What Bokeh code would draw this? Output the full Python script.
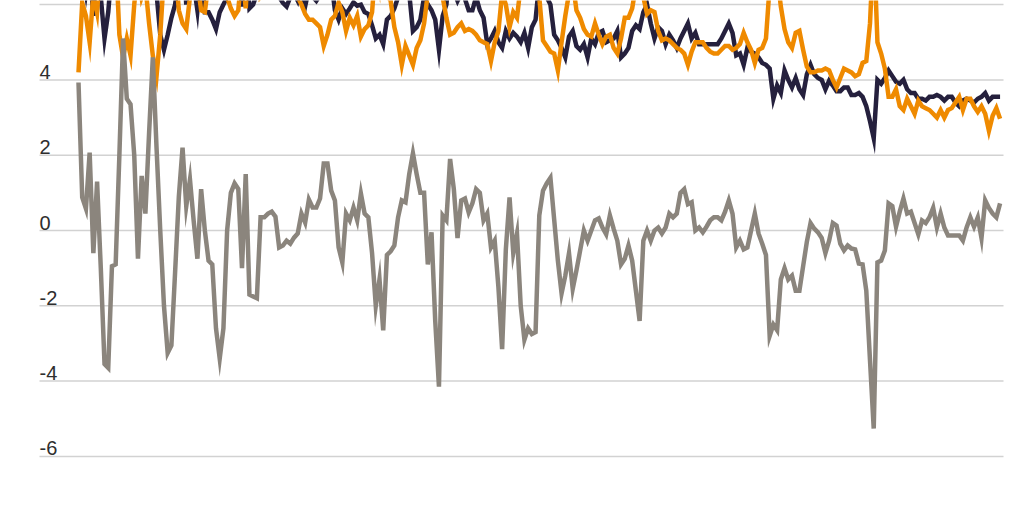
from bokeh.plotting import figure
from bokeh.models import Range1d, ColumnDataSource
from bokeh.core.properties import value
from bokeh.embed import file_html
from bokeh.resources import INLINE

# --- data ---
gray = [3.93, 0.88, 0.58, 2.07, -0.6, 1.3, -1.0, -3.55, -3.65, -0.95,
        -0.9, 2.0, 5.1, 3.5, 3.35, 2.0, -0.75, 1.45, 0.45, 2.6,
        4.6, 2.2, 0.0, -2.0, -3.25, -3.05, -1.1, 0.9, 2.2, 0.65,
        1.35, 0.25, -0.75, 1.1, 0.0, -0.8, -0.9, -2.6, -3.4, -2.6,
        0.0, 1.0, 1.25, 1.1, -1.0, 1.5, -1.7, -1.75, -1.8, 0.35,
        0.35, 0.45, 0.5, 0.37, -0.45, -0.4, -0.27, -0.35, -0.19, -0.08,
        0.45, 0.21, 0.82, 0.61, 0.61, 0.85, 1.78, 1.78, 1.06, 0.8,
        -0.45, -0.85, 0.45, 0.27, 0.61, 0.27, 0.98, 0.45, 0.35, -0.6,
        -2.0, -1.3, -2.65, -0.65, -0.55, -0.4, 0.35, 0.8, 0.75, 1.5,
        2.05, 1.5, 1.0, 1.0, -0.9, -0.05, -2.4, -4.15, 0.4, 0.27,
        1.9, 1.1, -0.2, 0.8, 0.85, 0.48, 0.72, 1.1, 1.0, 0.27,
        0.45, -0.45, -0.27, -1.5, -3.15, -0.5, 0.88, -0.6, -0.08, -2.0,
        -2.9, -2.6, -2.75, -2.7, 0.4, 1.06, 1.25, 1.4, 0.3, -0.8,
        -1.67, -1.2, -0.6, -1.55, -1.06, -0.53, 0.0, -0.27, 0.0, 0.27,
        0.32, 0.08, -0.1, 0.4, 0.05, -0.27, -0.9, -0.75, -0.4, -0.8,
        -1.6, -2.4, -0.27, 0.0, -0.27, 0.0, 0.08, -0.08, 0.08, 0.45,
        0.35, 0.45, 1.0, 1.1, 0.7, 0.75, 0.0, 0.08, -0.05, 0.1,
        0.27, 0.35, 0.35, 0.27, 0.5, 0.8, 0.45, -0.45, -0.27, -0.5,
        -0.45, 0.0, 0.45, -0.08, -0.35, -0.65, -2.8, -2.5, -2.65, -1.3,
        -1.0, -1.3, -1.2, -1.6, -1.6, -0.95, -0.3, 0.2, 0.05, -0.05,
        -0.2, -0.6, -0.27, 0.2, 0.13, -0.35, -0.53, -0.4, -0.48, -0.5,
        -0.88, -0.9, -1.6, -3.45, -5.26, -0.85, -0.8, -0.53, 0.72, 0.65,
        0.1, 0.5, 0.85, 0.45, 0.5, 0.2, -0.1, 0.27, 0.2, 0.35,
        0.6, 0.08, 0.45, 0.08, -0.13, -0.13, -0.13, -0.13, -0.27, 0.08,
        0.35, 0.1, 0.35, -0.2, 0.8, 0.6, 0.45, 0.35, 0.72]

navy = [8.1, 6.9, 6.3, 7.0, 5.7, 7.1, 6.2, 5.1, 5.8, 7.0,
        6.5, 7.2, 9.7, 8.6, 8.0, 8.0, 6.3, 7.65, 6.95, 8.1,
        9.25, 6.3, 5.2, 4.8, 5.2, 5.65, 6.0, 6.75, 7.7, 6.0,
        7.55, 6.55, 5.85, 6.95, 5.8, 5.8, 5.6, 5.35, 5.8, 6.0,
        6.2, 6.9, 6.95, 6.95, 5.95, 7.4, 5.9, 6.0, 6.3, 6.55,
        6.65, 6.85, 7.0, 6.77, 6.2, 6.05, 5.95, 6.2, 6.3, 6.1,
        6.45, 5.96, 6.42, 6.21, 6.1, 6.25, 6.7, 6.98, 6.66, 5.85,
        5.6, 5.9, 5.75, 5.9, 6.06, 5.97, 6.0, 5.8, 5.75, 5.45,
        5.1, 5.2, 4.95, 5.6, 5.7, 5.9, 6.2, 6.3, 6.4, 6.3,
        5.3, 5.4, 5.6, 6.2, 6.0, 5.85, 5.6, 4.8, 5.7, 6.0,
        7.1, 6.35, 6.1, 6.3, 6.15, 5.85, 5.85, 6.2, 5.85, 5.65,
        4.95, 5.1, 5.3, 5.0, 4.85, 5.3, 5.1, 5.25, 5.15, 5.0,
        5.25, 4.85, 5.4, 5.6, 6.6, 6.2, 6.2, 6.0, 5.2, 5.05,
        4.85, 4.6, 5.15, 5.3, 4.9, 4.8, 4.95, 4.6, 5.1, 4.95,
        5.25, 5.3, 5.0, 5.05, 5.1, 5.3, 4.6, 4.7, 4.85, 5.3,
        5.45, 5.35, 5.8, 6.0, 5.5, 5.1, 5.4, 5.3, 4.95, 5.2,
        5.05, 4.85, 5.1, 5.3, 5.5, 5.1, 5.25, 4.95, 4.95, 4.95,
        4.95, 4.95, 4.95, 5.1, 5.3, 5.5, 5.25, 4.65, 4.7, 4.4,
        4.85, 4.75, 4.7, 4.6, 4.45, 4.4, 4.3, 3.5, 3.85, 3.65,
        4.25, 4.0, 3.8, 4.05, 3.75, 3.6, 4.15, 4.4, 4.15, 4.05,
        4.0, 3.75, 3.98, 3.85, 3.7, 3.7, 3.8, 3.8, 3.6, 3.6,
        3.65, 3.55, 3.3, 2.9, 2.45, 4.0, 3.9, 4.05, 4.25, 4.1,
        3.95, 3.9, 4.0, 3.75, 3.65, 3.65, 3.5, 3.5, 3.45, 3.55,
        3.55, 3.6, 3.55, 3.45, 3.55, 3.55, 3.4, 3.3, 3.45, 3.5,
        3.45, 3.4, 3.5, 3.55, 3.65, 3.45, 3.55, 3.55, 3.55]

orange = [4.2, 6.05, 5.7, 5.0, 6.3, 5.8, 7.2, 8.65, 9.45, 7.95,
          7.4, 5.2, 4.6, 5.1, 4.65, 6.0, 7.05, 6.2, 6.5, 5.5,
          4.65, 4.1, 5.2, 6.8, 8.45, 8.7, 7.1, 5.85, 5.5, 5.35,
          6.2, 6.3, 6.6, 5.85, 5.8, 6.6, 6.5, 7.95, 9.2, 8.6,
          6.2, 5.9, 5.7, 5.85, 6.95, 5.9, 7.6, 7.75, 8.1, 6.2,
          6.3, 6.4, 6.5, 6.4, 6.65, 6.45, 6.27, 6.55, 6.5, 6.2,
          6.0, 5.75, 5.6, 5.6, 5.5, 5.4, 4.9, 5.2, 5.6, 5.7,
          6.05, 5.8, 5.3, 5.65, 5.45, 5.7, 5.15, 5.35, 5.45, 5.8,
          7.1, 6.5, 7.6, 6.25, 6.1, 5.4, 5.0, 4.4, 4.9, 4.65,
          4.4, 4.85, 5.05, 5.5, 6.3, 6.3, 8.0, 8.95, 6.2, 5.65,
          5.2, 5.25, 5.4, 5.5, 5.3, 5.35, 5.3, 5.2, 5.05, 5.0,
          4.95, 4.5, 5.0, 5.3, 6.3, 6.0, 5.4, 5.8, 5.65, 6.5,
          7.5, 7.5, 8.0, 8.2, 6.2, 5.05, 4.9, 4.75, 4.7, 4.25,
          5.0, 5.7, 6.3, 6.6, 5.85, 5.65, 5.35, 5.2, 5.15, 5.5,
          5.2, 4.95, 5.15, 5.2, 4.85, 4.7, 5.1, 5.65, 5.65, 5.9,
          6.5, 7.5, 6.2, 5.75, 5.85, 5.8, 5.3, 5.05, 5.1, 5.05,
          4.95, 4.85, 4.8, 4.7, 4.4, 4.75, 5.0, 5.0, 5.0, 4.85,
          4.75, 4.7, 4.7, 4.8, 4.9, 4.9, 4.8, 4.85, 4.95, 5.25,
          5.0, 4.8, 4.45, 4.8, 4.85, 5.1, 6.5, 7.0, 6.8, 5.95,
          5.35, 5.0, 4.85, 5.25, 5.3, 4.8, 4.35, 4.2, 4.2, 4.25,
          4.25, 4.3, 4.25, 4.0, 3.8, 4.05, 4.3, 4.25, 4.2, 4.1,
          4.15, 4.45, 4.5, 5.5, 7.7, 5.0, 4.7, 4.3, 3.55, 3.55,
          3.75, 3.3, 3.2, 3.5, 3.3, 3.1, 3.45, 3.3, 3.25, 3.2,
          3.1, 3.0, 3.2, 3.0, 3.2, 3.25, 3.4, 3.55, 3.2, 3.5,
          3.5, 3.3, 3.15, 3.3, 3.1, 2.65, 3.05, 3.25, 2.97]

grid_values = [6, 4, 2, 0, -2, -4, -6, -8]
tick_values = [4, 2, 0, -2, -4, -6, -8]
tick_labels = ["4", "2", "0", "-2", "-4", "-6", "-8"]

# --- layout / style ---
N = len(gray)
x = list(range(N))
step = 3.716           # px per observation
x_first_px = 78.0      # px from figure left to first point
W, H = 1024, 512
y_zero_px = 230.0      # px from figure top to value 0
px_per_unit = 37.65

x_start = -x_first_px / step
x_end = x_start + W / step
y_top = y_zero_px / px_per_unit
y_bottom = y_top - H / px_per_unit

grid_left = x_start + 39.0 / step
grid_right = x_start + 1003.0 / step

p = figure(width=W, height=H, output_backend="svg", toolbar_location=None,
           x_range=Range1d(x_start, x_end), y_range=Range1d(y_bottom, y_top),
           min_border=0, outline_line_color=None, background_fill_color="white",
           border_fill_color="white")
p.xaxis.visible = False
p.yaxis.visible = False
p.xgrid.visible = False
p.ygrid.visible = False

gsrc = ColumnDataSource(dict(y=grid_values, x0=[grid_left] * len(grid_values),
                             x1=[grid_right] * len(grid_values)))
p.segment(x0="x0", y0="y", x1="x1", y1="y", source=gsrc,
          line_color="#d2d2d2", line_width=1.5)

lsrc = ColumnDataSource(dict(y=tick_values, x=[grid_left] * len(tick_values),
                             lab=tick_labels))
p.text(x="x", y="y", text="lab", source=lsrc, text_font=value("Liberation Sans"),
       text_font_size="20px", text_color="#2e2e2e", text_align="left",
       text_baseline="alphabetic", y_offset=-8)

src = ColumnDataSource(dict(x=x, navy=navy, orange=orange, gray=gray))
p.line("x", "navy", source=src, line_color="#25203d", line_width=4.5, line_join="miter")
p.line("x", "orange", source=src, line_color="#ef8a00", line_width=4.5, line_join="miter")
p.line("x", "gray", source=src, line_color="#8b857d", line_width=4.5, line_join="miter")

open("out.html", "w").write(file_html(p, INLINE))
